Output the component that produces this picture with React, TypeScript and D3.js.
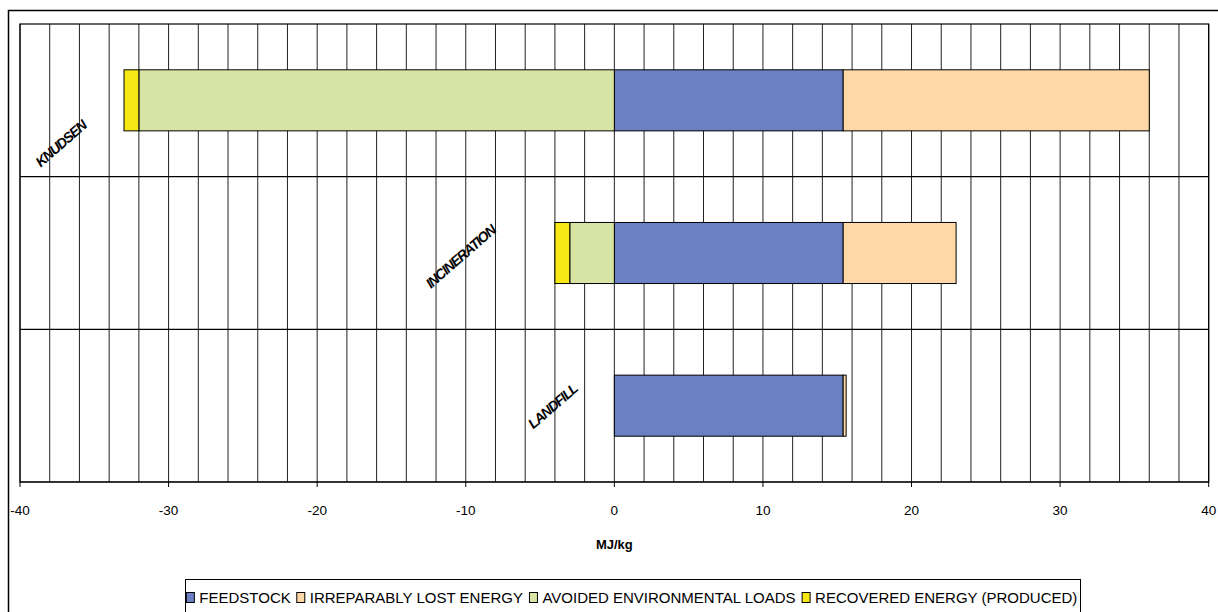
import React, { useMemo } from "react";
import * as d3 from "d3";

const categories = ["KNUDSEN", "INCINERATION", "LANDFILL"];
const feedstock = [15.4, 15.4, 15.4];
const irreparablyLost = [20.6, 7.6, 0.2];
const avoidedLoads = [-32, -3, 0];
const recoveredEnergy = [-1, -1, 0];
const seriesNames = [
  "FEEDSTOCK",
  "IRREPARABLY LOST ENERGY",
  "AVOIDED ENVIRONMENTAL LOADS",
  "RECOVERED ENERGY (PRODUCED)",
];
const seriesColors = ["#6A80C2", "#FFD8A8", "#D7E4A4", "#F5E815"];
const xTicks = [-40, -30, -20, -10, 0, 10, 20, 30, 40];
// label placement (centre, in MJ/kg) and vertical offset as a fraction of the band step
const labelX = [-37.2, -10.3, -4.1];
const labelDy = [0.29, 0.03, 0.01];

const W = 1218;
const H = 612;

export default function App() {
  const x = d3.scaleLinear().domain([-40, 40]).range([20, 1208.7]);
  const y = d3
    .scaleBand<string>()
    .domain(categories)
    .range([24, 482])
    .paddingInner(0.6)
    .paddingOuter(0.3);
  const step = y.step();
  const gridVals = d3.range(-40, 41, 2);

  const segs: { x0: number; x1: number; cat: string; color: string }[] = [];
  categories.forEach((c, i) => {
    const f = feedstock[i];
    const l = irreparablyLost[i];
    const a = avoidedLoads[i];
    const r = recoveredEnergy[i];
    segs.push({ x0: 0, x1: f, cat: c, color: seriesColors[0] });
    if (l) segs.push({ x0: f, x1: f + l, cat: c, color: seriesColors[1] });
    if (a) segs.push({ x0: a, x1: 0, cat: c, color: seriesColors[2] });
    if (r) segs.push({ x0: a + r, x1: a, cat: c, color: seriesColors[3] });
  });

  const legendFont = "15px 'Liberation Sans', Arial, sans-serif";
  const legendItems = useMemo(() => {
    const cv = document.createElement("canvas");
    const ctx = cv.getContext("2d")!;
    ctx.font = legendFont;
    const widths = seriesNames.map((s) => ctx.measureText(s).width);
    const sq = 9;
    const gap = 4;
    const sep = 6;
    const total =
      widths.reduce((a, b) => a + b, 0) + seriesNames.length * (sq + gap) + (seriesNames.length - 1) * sep;
    let cx = 632 - total / 2;
    return seriesNames.map((s, i) => {
      const item = { name: s, sqX: cx, textX: cx + sq + gap, color: seriesColors[i] };
      cx += sq + gap + widths[i] + sep;
      return item;
    });
  }, []);

  const plotTop = 24;
  const plotBottom = 482;

  return (
    <svg
      width={W}
      height={H}
      style={{ position: "absolute", left: 0, top: 0, background: "#fff" }}
      fontFamily="'Liberation Sans', Arial, sans-serif"
    >
      <rect x={0} y={0} width={W} height={H} fill="#fff" />
      {/* outer chart frame */}
      <rect x={8.5} y={10.5} width={W + 20} height={H + 20} fill="none" stroke="#000" strokeWidth={1.5} />

      {/* vertical gridlines */}
      {gridVals.map((v) => (
        <line key={v} x1={x(v)} x2={x(v)} y1={plotTop} y2={plotBottom} stroke="#222" strokeWidth={1} />
      ))}
      {/* category separators */}
      {categories.slice(1).map((c, i) => (
        <line
          key={c}
          x1={x(-40)}
          x2={x(40)}
          y1={plotTop + step * (i + 1)}
          y2={plotTop + step * (i + 1)}
          stroke="#000"
          strokeWidth={1.2}
        />
      ))}
      {/* plot border */}
      <rect
        x={x(-40)}
        y={plotTop}
        width={x(40) - x(-40)}
        height={plotBottom - plotTop}
        fill="none"
        stroke="#000"
        strokeWidth={1.2}
      />

      {/* bars */}
      {segs.map((s, i) => (
        <rect
          key={i}
          x={x(s.x0)}
          y={y(s.cat)!}
          width={x(s.x1) - x(s.x0)}
          height={y.bandwidth()}
          fill={s.color}
          stroke="#000"
          strokeWidth={1}
        />
      ))}

      {/* category labels */}
      {categories.map((c, i) => {
        const cx = x(labelX[i]);
        const cy = y(c)! + y.bandwidth() / 2 + labelDy[i] * step;
        return (
          <text
            key={c}
            transform={`translate(${cx},${cy}) rotate(-41)`}
            textAnchor="middle"
            dominantBaseline="middle"
            fontSize={14.2}
            fontWeight="bold"
            fontStyle="italic"
            letterSpacing={-1.2}
            fill="#000"
          >
            {c}
          </text>
        );
      })}

      {/* x axis */}
      <line x1={x(-40)} x2={x(40)} y1={plotBottom} y2={plotBottom} stroke="#000" strokeWidth={1.2} />
      {xTicks.map((t) => (
        <g key={t}>
          <line x1={x(t)} x2={x(t)} y1={plotBottom} y2={plotBottom + 5} stroke="#000" strokeWidth={1} />
          <text x={x(t)} y={515} textAnchor="middle" fontSize={13.5} fill="#000">
            {t}
          </text>
        </g>
      ))}
      <text x={x(0)} y={549} textAnchor="middle" fontSize={13} fontWeight="bold" fill="#000">
        MJ/kg
      </text>

      {/* legend */}
      <rect x={185.5} y={579.5} width={895} height={40} fill="#fff" stroke="#000" strokeWidth={1} />
      {legendItems.map((it) => (
        <g key={it.name}>
          <rect x={it.sqX} y={592.5} width={8} height={10} fill={it.color} stroke="#000" strokeWidth={1} />
          <text x={it.textX} y={603} fill="#000" style={{ font: legendFont }}>
            {it.name}
          </text>
        </g>
      ))}
    </svg>
  );
}
